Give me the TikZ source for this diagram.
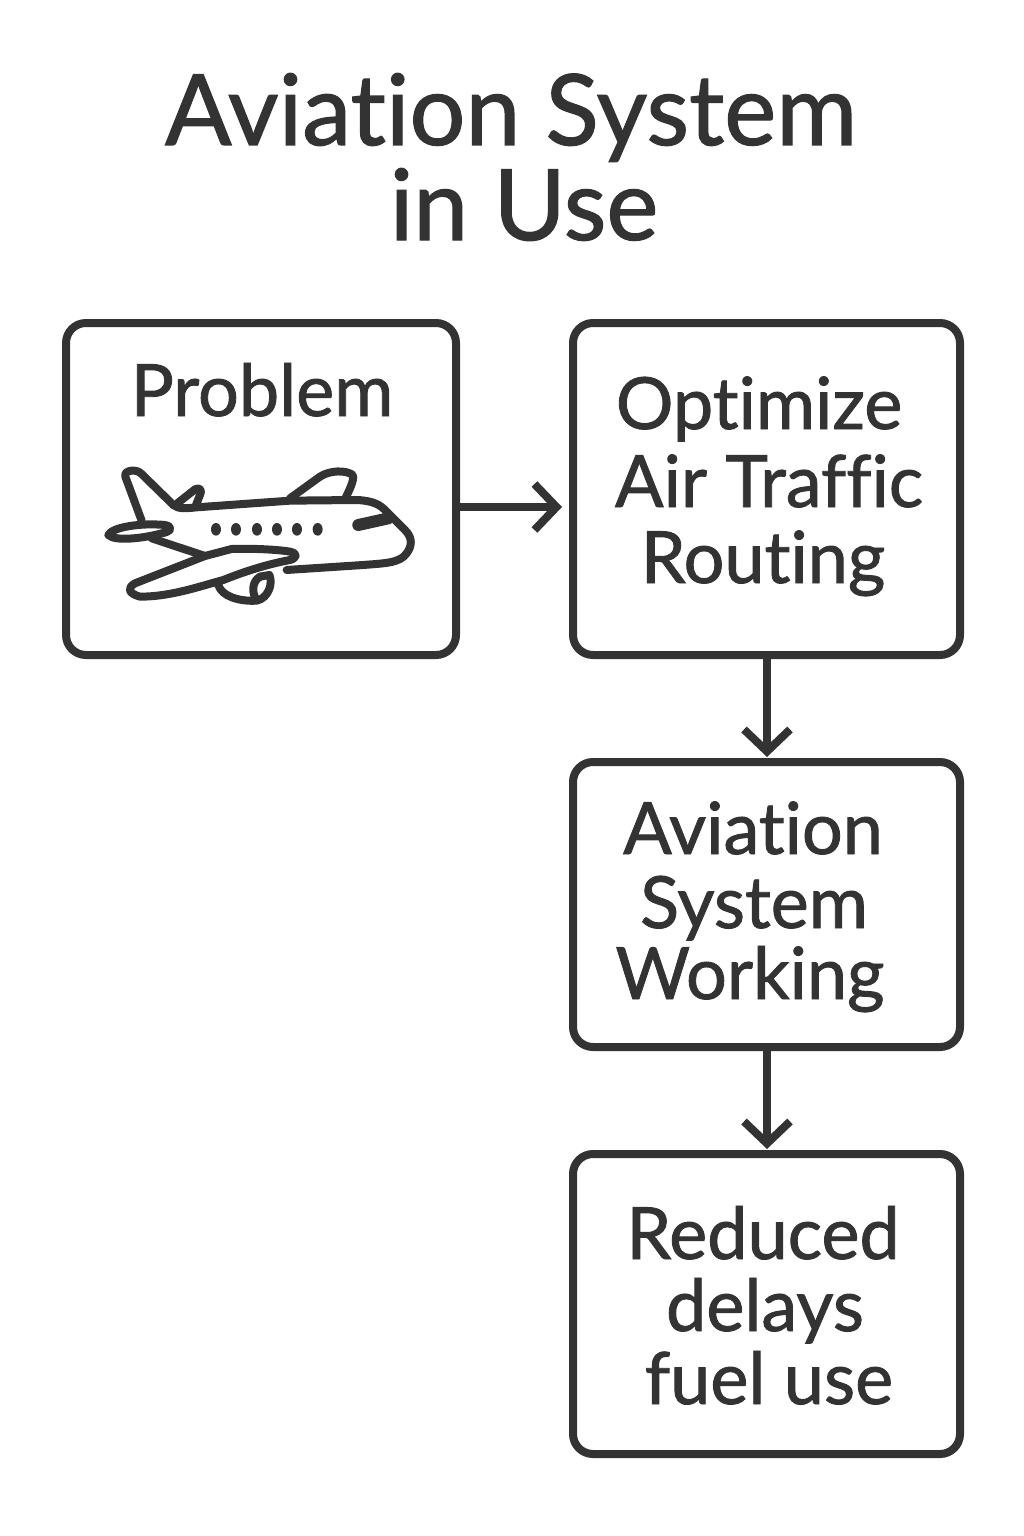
\documentclass[tikz,border=0pt]{standalone}
\usepackage{fontspec}
\setmainfont[RawFeature={-liga;-dlig;-clig},FakeBold=1.2]{Lato}
\usetikzlibrary{arrows.meta}
\definecolor{ink}{HTML}{333333}
\tikzset{
  box/.style={draw=ink,line width=8pt,rounded corners=20pt,anchor=north west,inner sep=0pt,outer sep=0pt},
  lab/.style={text=ink,font=\fontsize{72pt}{72pt}\selectfont,anchor=base,inner sep=0pt},
  ttl/.style={text=ink,font=\fontsize{98.5pt}{98.5pt}\selectfont,anchor=base,inner sep=0pt},
  conn/.style={draw=ink,line width=8pt,-{Straight Barb[length=22pt,width=46pt,line width=8pt]}},
  plane/.style={draw=ink,line width=8pt,line cap=round,line join=round}
}
\begin{document}
\begin{tikzpicture}[x=1pt,y=-1pt]
\useasboundingbox (0,0) rectangle (1024,1536);
\node[ttl] (t1) at (511,145) {Aviation System};
\node[ttl] (t2) at (524,240) {in Use};
\node[box,minimum width=390pt,minimum height=332pt] (a) at (66,323) {};
\node[box,minimum width=387pt,minimum height=332pt] (b) at (573,323) {};
\node[box,minimum width=387pt,minimum height=285pt] (c) at (573,762) {};
\node[box,minimum width=387pt,minimum height=300pt] (d) at (573,1154) {};
\node[lab] (p) at (262,416) {Problem};
\node[lab] (b1) at (759,429) {Optimize};
\node[lab] (b2) at (769,507) {Air Traffic};
\node[lab] (b3) at (763,583) {Routing};
\node[lab] (c1) at (753,854) {Aviation};
\node[lab] (c2) at (754,928) {System};
\node[lab] (c3) at (750,999) {Working};
\node[lab] (d1) at (763,1259) {Reduced};
\node[lab] (d2) at (765,1331) {delays};
\node[lab] (d3) at (769,1404) {fuel use};
\draw[conn,shorten >=11pt] (a.east|-0,507) -- (b.west|-0,507);
\draw[conn,shorten >=5pt] (b.south-|767,0) -- (c.north-|767,0);
\draw[conn,shorten >=5pt] (c.south-|767,0) -- (d.north-|767,0);
\begin{scope}[shift={(90,450)},x=0.3333pt,y=-0.3333pt]
\draw[plane] (155,212) -- (106,80) .. controls (100,60) and (140,55) .. (155,72) -- (250,165) .. controls (265,178) and (290,175) .. (320,172) -- (600,152) -- (800,150) .. controls (850,152) and (870,165) .. (885,180) -- (945,240) .. controls (970,265) and (965,290) .. (950,310) .. controls (930,340) and (880,340) .. (820,345) -- (590,360);
\draw[plane] (262,160) -- (315,118) .. controls (335,110) and (335,125) .. (330,135) -- (318,165);
\draw[plane] (600,145) -- (690,80) .. controls (720,60) and (770,60) .. (788,75) .. controls (795,90) and (775,125) .. (765,148);
\draw[plane] (55,255) .. controls (65,232) and (150,218) .. (225,225) .. controls (250,230) and (245,245) .. (215,250) .. controls (160,265) and (75,275) .. (55,255);
\draw[plane] (185,265) -- (345,318);
\draw[plane] (345,318) -- (425,297) .. controls (480,295) and (560,298) .. (600,305) .. controls (625,310) and (620,325) .. (600,330) .. controls (520,345) and (450,370) .. (400,390) .. controls (320,412) and (240,440) .. (150,440) .. controls (115,430) and (110,415) .. (135,400) -- (345,318);
\draw[plane] (385,405) .. controls (395,440) and (450,455) .. (500,452) .. controls (535,445) and (550,400) .. (538,375);
\draw[plane] (510,380) .. controls (485,395) and (485,430) .. (500,450);
\draw[plane] (510,380) -- (538,375);
\draw[plane,line width=12pt] (805,225) -- (895,205);
\foreach \px in {378,438,501,561,621,683}{\fill[ink] (\px,238) ellipse (15 and 19);}
\end{scope}
\end{tikzpicture}
\end{document}
